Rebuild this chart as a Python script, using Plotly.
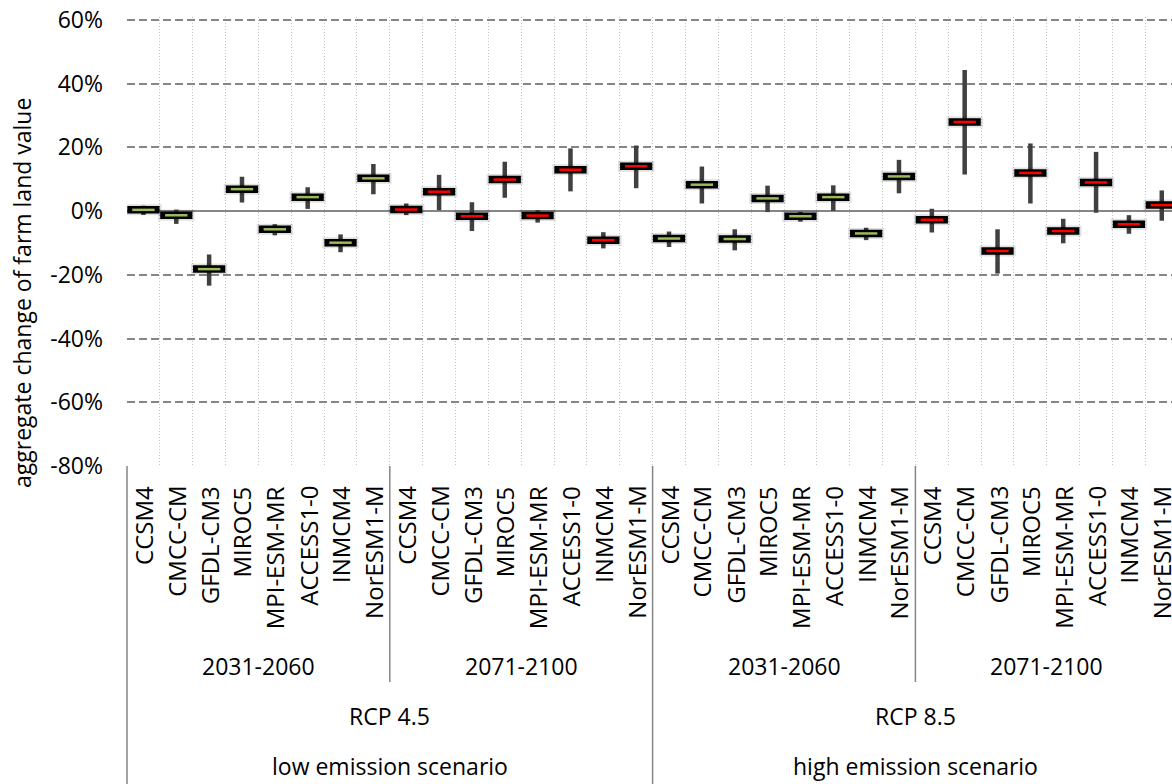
import plotly.graph_objects as go

# ---------------- data ----------------
models = ["CCSM4", "CMCC-CM", "GFDL-CM3", "MIROC5", "MPI-ESM-MR", "ACCESS1-0", "INMCM4", "NorESM1-M"]
periods = ["2031-2060", "2071-2100"]
rcps = ["RCP 4.5", "RCP 8.5"]
scenarios = ["low emission scenario", "high emission scenario"]

# values in percent: central estimate, upper and lower whisker
rcp45_2031_mid = [0.4, -1.3, -18.2, 6.9, -5.7, 4.4, -9.9, 10.3]
rcp45_2031_high = [1.7, 0.5, -13.6, 10.8, -4.1, 7.5, -7.3, 14.8]
rcp45_2031_low = [-1.2, -4.0, -23.4, 2.7, -7.6, 0.7, -12.9, 5.3]

rcp45_2071_mid = [0.5, 6.1, -1.6, 9.9, -1.4, 13.0, -9.1, 14.1]
rcp45_2071_high = [2.4, 11.4, 2.8, 15.5, 0.3, 19.7, -6.6, 20.6]
rcp45_2071_low = [-1.25, 0.3, -6.25, 4.2, -3.6, 6.2, -11.7, 7.2]

rcp85_2031_mid = [-8.6, 8.3, -8.75, 4.0, -1.6, 4.4, -7.0, 10.9]
rcp85_2031_high = [-6.4, 14.0, -5.7, 8.0, -0.2, 8.1, -5.2, 16.1]
rcp85_2031_low = [-11.25, 2.4, -12.3, -0.3, -3.3, 0.1, -9.1, 5.6]

rcp85_2071_mid = [-2.7, 28.0, -12.5, 12.0, -6.25, 9.0, -4.1, 1.9]
rcp85_2071_high = [0.75, 44.3, -5.7, 21.25, -2.4, 18.6, -1.25, 6.5]
rcp85_2071_low = [-6.7, 11.5, -19.6, 2.4, -10.1, -0.5, -7.1, -3.0]

y_tickvals = [60, 40, 20, 0, -20, -40, -60, -80]
y_ticktext = ["60%", "40%", "20%", "0%", "-20%", "-40%", "-60%", "-80%"]
y_title = "aggregate change of farm land value"

# ---------------- styling / layout ----------------
GREEN = "#9BBB59"
RED = "#FF0000"
groups = [
    (rcp45_2031_mid, rcp45_2031_high, rcp45_2031_low, GREEN),
    (rcp45_2071_mid, rcp45_2071_high, rcp45_2071_low, RED),
    (rcp85_2031_mid, rcp85_2031_high, rcp85_2031_low, GREEN),
    (rcp85_2071_mid, rcp85_2071_high, rcp85_2071_low, RED),
]

W, H = 1172, 784
PL, PT, PB = 127, 17, 466  # plot area in figure pixels (small headroom above 60% line)
ML, MR, MT, MB = PL, 0, PT, H - PB
plot_w = W - ML - MR
plot_h = H - MT - MB
cat_px = 32.85
x0 = -0.5
x1 = x0 + plot_w / cat_px
ppu = (466 - 20) / (y_tickvals[0] - y_tickvals[-1])  # pixels per percent
y0 = y_tickvals[-1]
y1 = y0 + plot_h / ppu

FONT = "Open Sans"
GRID = "#868686"

n = len(models)
fig = go.Figure()

for gi, (mid, high, low, col) in enumerate(groups):
    xs = [gi * n + i for i in range(n)]
    fig.add_trace(go.Scatter(
        x=xs, y=mid, mode="markers",
        marker=dict(size=1, color="rgba(0,0,0,0)"),
        error_y=dict(type="data", symmetric=False,
                     array=[h - m for h, m in zip(high, mid)],
                     arrayminus=[m - l for m, l in zip(mid, low)],
                     color="#404040", thickness=4.5, width=0),
        hoverinfo="skip", showlegend=False))
    fig.add_trace(go.Scatter(
        x=xs, y=mid, mode="markers",
        marker=dict(symbol="line-ew", size=26, line=dict(width=11, color="rgba(0,0,0,0.12)")),
        hoverinfo="skip", showlegend=False))
    fig.add_trace(go.Scatter(
        x=xs, y=mid, mode="markers",
        marker=dict(symbol="line-ew", size=23, line=dict(width=7.5, color="black")),
        hoverinfo="skip", showlegend=False))
    fig.add_trace(go.Scatter(
        x=xs, y=mid, mode="markers",
        marker=dict(symbol="line-ew", size=16, line=dict(width=2.5, color=col)),
        showlegend=False))

n_total = n * len(groups)
boundaries = [i - 0.5 for i in range(n_total + 1)]


def xpaper(v):
    return (v - x0) / (x1 - x0)


def ypaper(px):
    return (PB - px) / plot_h


def xpaper_px(px):
    return (px - PL) / plot_w


annotations = []
# model labels
for gi in range(len(groups)):
    for i, m in enumerate(models):
        annotations.append(dict(
            x=gi * n + i, xref="x", y=ypaper(484), yref="paper",
            text=m, textangle=-90, showarrow=False,
            xanchor="center", yanchor="top",
            font=dict(family=FONT, size=24, color="black")))
# period labels
for gi in range(len(groups)):
    annotations.append(dict(
        x=xpaper(gi * n + (n - 1) / 2), xref="paper", y=ypaper(666), yref="paper",
        text=periods[gi % 2], showarrow=False, xanchor="center", yanchor="middle",
        font=dict(family=FONT, size=23, color="black")))
# rcp + scenario labels
for ri in range(len(rcps)):
    cx = xpaper(ri * 2 * n + (2 * n - 1) / 2)
    annotations.append(dict(
        x=cx, xref="paper", y=ypaper(716), yref="paper",
        text=rcps[ri], showarrow=False, xanchor="center", yanchor="middle",
        font=dict(family=FONT, size=23, color="black")))
    annotations.append(dict(
        x=cx, xref="paper", y=ypaper(766), yref="paper",
        text=scenarios[ri], showarrow=False, xanchor="center", yanchor="middle",
        font=dict(family=FONT, size=23, color="black")))
# y title
annotations.append(dict(
    x=xpaper_px(22), xref="paper", y=ypaper(293), yref="paper",
    text=y_title, textangle=-90, showarrow=False, xanchor="center", yanchor="middle",
    font=dict(family=FONT, size=23, color="black")))

shapes = []
# group dividers below the axis
for gi in range(len(groups) + 1):
    xv = gi * n - 0.5
    full = (gi % 2 == 0)
    shapes.append(dict(
        type="line", xref="paper", yref="paper",
        x0=xpaper(xv), x1=xpaper(xv), y0=0, y1=ypaper(790 if full else 682),
        line=dict(color=GRID, width=1.5)))

fig.update_layout(
    width=W, height=H,
    margin=dict(l=ML, r=MR, t=MT, b=MB, pad=0),
    paper_bgcolor="white", plot_bgcolor="white",
    font=dict(family=FONT, color="black"),
    showlegend=False,
    xaxis=dict(range=[x0, x1], tickmode="array", tickvals=boundaries,
               showticklabels=False, ticks="", showgrid=True,
               gridcolor="#C4C4C4", griddash="1px,2px", gridwidth=1,
               zeroline=False, showline=False),
    yaxis=dict(range=[y0, y1], tickmode="array", tickvals=y_tickvals, ticktext=y_ticktext,
               ticks="", showgrid=True, gridcolor=GRID, griddash="8px,4px", gridwidth=2,
               zeroline=True, zerolinecolor=GRID, zerolinewidth=2, showline=False,
               ticklabeloverflow="allow",
               tickfont=dict(family=FONT, size=23, color="black"), ticklabelstandoff=23),
    annotations=annotations,
    shapes=shapes,
)

fig.write_html("out.html", config={"displayModeBar": False},
               post_script="document.body.style.margin='0';document.body.style.overflow='hidden';")
